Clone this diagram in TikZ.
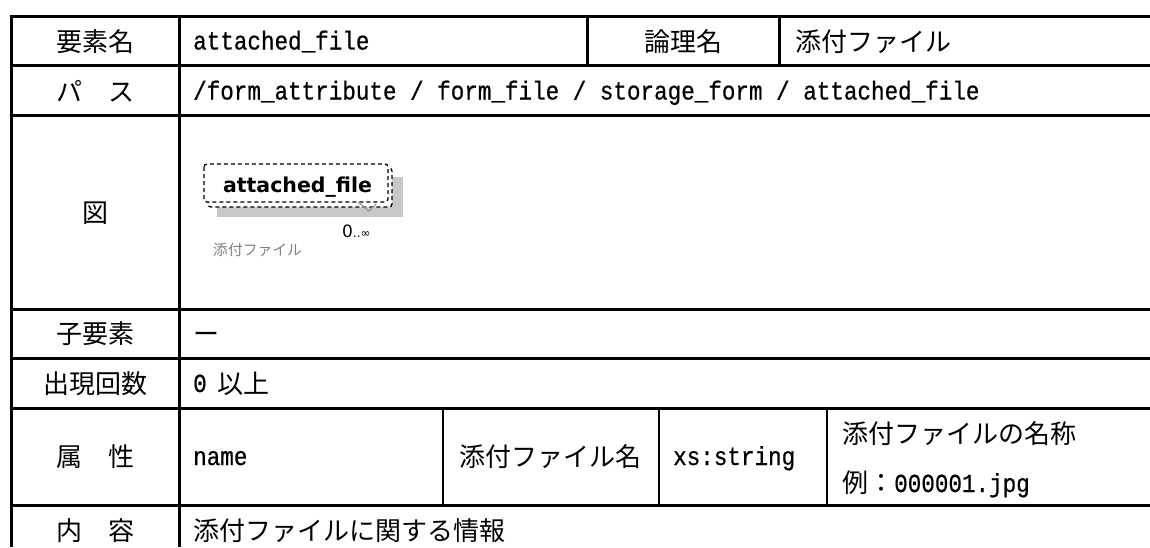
\documentclass[tikz,border=0pt]{standalone}
\usepackage{fontspec}
\newfontfamily\jpfont{Noto Sans CJK JP}
\newfontfamily\monofont[FakeStretch=0.869,FakeBold=0.6]{Liberation Mono}
\newfontfamily\dvfont{DejaVu Sans}
\begin{document}
\begin{tikzpicture}[x=1pt,y=-1pt,
  rule/.style={line width=3pt},
  thinrule/.style={line width=2.2pt},
  hdr/.style={font={\jpfont\fontsize{26pt}{30pt}\selectfont}, anchor=base, inner sep=0pt},
  jpl/.style={font={\jpfont\fontsize{26pt}{30pt}\selectfont}, anchor=base west, inner sep=0pt},
  val/.style={font={\monofont\fontsize{26pt}{30pt}\selectfont}, anchor=base west, inner sep=0pt},
  elbox/.style={draw=black, fill=white, line width=1.3pt, dash pattern=on 4pt off 3pt, rounded corners=3pt},
  elname/.style={font={\dvfont\bfseries\fontsize{20.5pt}{24pt}\selectfont}, anchor=base, inner sep=0pt},
  card/.style={font={\dvfont\fontsize{17pt}{20pt}\selectfont}, anchor=base west, inner sep=0pt},
  note/.style={font={\jpfont\fontsize{14.8pt}{18pt}\selectfont}, text=black!50, anchor=base west, inner sep=0pt}
]
\useasboundingbox (0,0) rectangle (1150,547);
\fill[white] (0,0) rectangle (1150,547);

% ---- table rules ----
\foreach \yy in {16,65,115,309,358,408,505}
  \draw[rule] (10,\yy) -- (1150,\yy);
\draw[rule] (11,14.5) -- (11,547);
\draw[rule] (179,16) -- (179,547);
\draw[rule] (587,16) -- (587,65);
\draw[rule] (779,16) -- (779,65);
\draw[thinrule] (443,408) -- (443,505);
\draw[thinrule] (659,408) -- (659,505);
\draw[thinrule] (827,408) -- (827,505);

% ---- row 1 ----
\node[hdr] (h1) at (95,51) {要素名};
\node[val] (v1) at (193,49.5) {attached\_file};
\node[hdr] (h1b) at (683,51) {論理名};
\node[jpl] (v1b) at (795,51) {添付ファイル};

% ---- row 2 ----
\node[hdr] (h2) at (95,101) {パ　ス};
\node[val] (v2) at (193,99.5) {/form\_attribute / form\_file / storage\_form / attached\_file};

% ---- row 3 ----
\node[hdr] (h3) at (95,222) {図};
\fill[black!22] (217,177) rectangle (403,217);
\draw[elbox] (208,168) rectangle (392,207);
\draw[elbox] (204,164) rectangle (388,202);
\node[elname] (el) at (297.5,192) {attached\_file};
\draw[black!40, line width=1.2pt] (358,202) -- (369,211) -- (376,204);
\node[card] (cd) at (342,237) {0{\fontsize{12pt}{14pt}\selectfont..∞}};
\node[note] (nt) at (213,255) {添付ファイル};

% ---- row 4 ----
\node[hdr] (h4) at (95,343) {子要素};
\node[jpl] (v4) at (193,343) {ー};

% ---- row 5 ----
\node[hdr] (h5) at (95,393) {出現回数};
\node[val] (v5) at (193,392) {0};
\node[jpl] (v5b) at (217,393) {以上};

% ---- row 6 ----
\node[hdr] (h6) at (95,466) {属　性};
\node[val] (v6) at (193,465) {name};
\node[hdr] (v6b) at (550,466) {添付ファイル名};
\node[val] (v6c) at (673,465) {xs:string};
\node[jpl] (v6d) at (842,443) {添付ファイルの名称};
\node[jpl] (v6e) at (842,492) {例：\monofont\fontsize{26pt}{30pt}\selectfont 000001.jpg};

% ---- row 7 ----
\node[hdr] (h7) at (95,540) {内　容};
\node[jpl] (v7) at (193,540) {添付ファイルに関する情報};
\end{tikzpicture}
\end{document}
